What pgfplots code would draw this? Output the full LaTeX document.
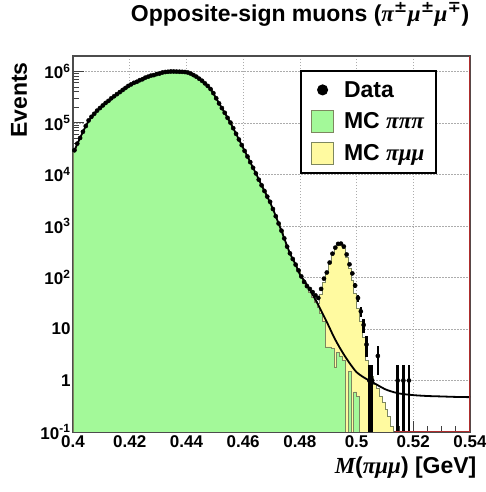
\documentclass[border=0pt]{standalone}
\usepackage{fontspec}
\setmainfont{Liberation Sans}
\newfontfamily\grkfont{Liberation Serif}
\newfontfamily\djvfont{DejaVu Serif}
\usepackage{pgfplots}
\pgfplotsset{compat=1.18}
\usepackage{pgfplotstable}

\definecolor{mcgreen}{RGB}{163,249,153}
\definecolor{mcyellow}{RGB}{255,250,160}
\definecolor{histedge}{RGB}{125,135,95}
\definecolor{framered}{RGB}{175,45,45}
\pgfplotsset{layers/gridbelow/.define layer set={axis background,axis grid,main,axis ticks,axis lines,axis tick labels,axis descriptions,axis foreground}{}}
\newcommand{\gk}[1]{{\grkfont\bfseries\itshape #1}}
\newcommand{\pmsup}[1]{\textsuperscript{\djvfont\bfseries #1}}

% bins of 0.001 GeV, left edges; gr = MC pipipi, tot = MC pipipi + MC pimumu, dat = data
\pgfplotstableread{
xl     gr       tot      dat      ep    em
0.400  29500    29500    29500    0     0
0.401  39800    39800    39800    0     0
0.402  51300    51300    51300    0     0
0.403  67600    67600    67600    0     0
0.404  87100    87100    87100    0     0
0.405  112000   112000   112000   0     0
0.406  132000   132000   132000   0     0
0.407  151000   151000   151000   0     0
0.408  174000   174000   174000   0     0
0.409  195000   195000   195000   0     0
0.410  219000   219000   219000   0     0
0.411  245000   245000   245000   0     0
0.412  269000   269000   269000   0     0
0.413  302000   302000   302000   0     0
0.414  331000   331000   331000   0     0
0.415  363000   363000   363000   0     0
0.416  398000   398000   398000   0     0
0.417  437000   437000   437000   0     0
0.418  479000   479000   479000   0     0
0.419  525000   525000   525000   0     0
0.420  562000   562000   562000   0     0
0.421  603000   603000   603000   0     0
0.422  631000   631000   631000   0     0
0.423  676000   676000   676000   0     0
0.424  708000   708000   708000   0     0
0.425  759000   759000   759000   0     0
0.426  794000   794000   794000   0     0
0.427  832000   832000   832000   0     0
0.428  851000   851000   851000   0     0
0.429  891000   891000   891000   0     0
0.430  912000   912000   912000   0     0
0.431  955000   955000   955000   0     0
0.432  977000   977000   977000   0     0
0.433  988000   988000   988000   0     0
0.434  1000000  1000000  1000000  0     0
0.435  1000000  1000000  1000000  0     0
0.436  995000   995000   995000   0     0
0.437  990000   990000   990000   0     0
0.438  985000   985000   985000   0     0
0.439  977000   977000   977000   0     0
0.440  955000   955000   955000   0     0
0.441  912000   912000   912000   0     0
0.442  851000   851000   851000   0     0
0.443  794000   794000   794000   0     0
0.444  724000   724000   724000   0     0
0.445  661000   661000   661000   0     0
0.446  589000   589000   589000   0     0
0.447  525000   525000   525000   0     0
0.448  457000   457000   457000   0     0
0.449  380000   380000   380000   0     0
0.450  302000   302000   302000   0     0
0.451  240000   240000   240000   0     0
0.452  195000   195000   195000   0     0
0.453  158000   158000   158000   0     0
0.454  126000   126000   126000   0     0
0.455  102000   102000   102000   0     0
0.456  79400    79400    79400    0     0
0.457  61700    61700    61700    0     0
0.458  47900    47900    47900    0     0
0.459  37200    37200    37200    0     0
0.460  28800    28800    28800    0     0
0.461  22400    22400    22400    0     0
0.462  17400    17400    17400    0     0
0.463  13500    13500    13500    0     0
0.464  10500    10500    10500    0     0
0.465  7940     7940     7940     0     0
0.466  6170     6170     6170     0     0
0.467  4790     4790     4790     0     0
0.468  3720     3720     3720     0     0
0.469  2950     2950     2950     0     0
0.470  2140     2140     2140     0     0
0.471  1550     1550     1550     0     0
0.472  1120     1120     1120     0     0
0.473  813      813      813      0     0
0.474  575      575      575      0     0
0.475  398      398      398      0     0
0.476  295      295      295      0     0
0.477  229      229      229      0     0
0.478  178      178      178      0     0
0.479  138      138      138      0     0
0.480  105      105      105      0     0
0.481  82       82       82       0     0
0.482  66       66       68       0     0
0.483  52       52       60       0     0
0.484  42       42       52       0     0
0.485  33       34       45       0     0
0.486  26       32       40       0     0
0.487  20       48       60       0     0
0.488  14       80       95       0     0
0.489  4.5      125      125      0     0
0.490  4.5      200      195      0     0
0.491  4.2      290      290      0     0
0.492  1.8      380      380      0     0
0.493  3.5      440      450      0     0
0.494  3.0      440      455      0     0
0.495  2.5      370      400      0     0
0.496  0.001    250      280      0     0
0.497  1.5      150      180      0     0
0.498  0.001    90       120      0     0
0.499  0.6      50       70       8     8
0.500  0.5      25       40       6     6
0.501  0.001    14       22       4.7   4.7
0.502  0.001    7        12       3.5   3.5
0.503  0.001    2.5      5        2.2   2.2
0.504  0.001    1.5      1        1     0.999
0.505  0.001    1.2      1        1     0.999
0.506  0.001    0.85     nan      0     0
0.507  0.001    0.7      3        1.7   1.7
0.508  0.001    0.5      nan      0     0
0.509  0.001    0.38     nan      0     0
0.510  0.001    0.27     nan      0     0
0.511  0.001    0.2      nan      0     0
0.512  0.001    0.13     nan      0     0
0.513  0.001    0.001    nan      0     0
0.514  0.001    0.001    1        1     0.999
0.515  0.001    0.001    nan      0     0
0.516  0.001    0.001    1        1     0.999
0.517  0.001    0.001    nan      0     0
0.518  0.001    0.001    1        1     0.999
0.519  0.001    0.001    nan      0     0
0.520  0.001    0.001    nan      0     0
}\hist

% fitted background curve
\pgfplotstableread{
x       y
0.4005  29500
0.4025  51300
0.4045  87100
0.4065  132000
0.4085  174000
0.4105  219000
0.4125  269000
0.4145  331000
0.4165  398000
0.4185  479000
0.4205  562000
0.4225  631000
0.4245  708000
0.4265  794000
0.4285  851000
0.4305  912000
0.4325  977000
0.4345  1000000
0.4365  995000
0.4385  985000
0.4405  955000
0.4425  851000
0.4445  724000
0.4465  589000
0.4485  457000
0.4505  302000
0.4525  195000
0.4545  126000
0.4565  79400
0.4585  47900
0.4605  28800
0.4625  17400
0.4645  10500
0.4665  6170
0.4685  3720
0.4705  2140
0.4725  1120
0.4745  575
0.4765  295
0.4785  178
0.480   115
0.482   80
0.484   52
0.486   33
0.488   20
0.490   12
0.492   7
0.494   4.4
0.496   2.9
0.498   2.0
0.500   1.45
0.502   1.2
0.504   1.03
0.506   0.9
0.508   0.78
0.510   0.68
0.512   0.62
0.515   0.56
0.520   0.52
0.525   0.50
0.530   0.49
0.535   0.48
0.540   0.475
}\fit

\begin{document}
\begin{tikzpicture}
\begin{axis}[
  set layers=gridbelow,
  at={(0,0)}, anchor=south west,
  scale only axis, width=397bp, height=376bp,
  xmin=0.4, xmax=0.54,
  ymode=log, ymin=0.1, ymax=2e6, log origin y=infty,
  xtick={0.4,0.42,0.44,0.46,0.48,0.5,0.52,0.54},
  xticklabels={0.4,0.42,0.44,0.46,0.48,0.5,0.52,0.54},
  minor x tick num=3,
  ytick={0.1,1,10,100,1000,1e4,1e5,1e6},
  yticklabels={10\textsuperscript{-1},1,10,10\textsuperscript{2},10\textsuperscript{3},10\textsuperscript{4},10\textsuperscript{5},10\textsuperscript{6}},
  minor ytick={0.2,0.3,0.4,0.5,0.6,0.7,0.8,0.9,2,3,4,5,6,7,8,9,20,30,40,50,60,70,80,90,
    200,300,400,500,600,700,800,900,2e3,3e3,4e3,5e3,6e3,7e3,8e3,9e3,
    2e4,3e4,4e4,5e4,6e4,7e4,8e4,9e4,2e5,3e5,4e5,5e5,6e5,7e5,8e5,9e5,2e6},
  tick align=inside, tick pos=left,
  major tick length=11bp, minor tick length=6bp,
  tick style={line width=1bp, black!75},
  axis line style={line width=1.1bp, black!70},
  grid=major,
  major grid style={dash pattern=on 1.5bp off 1.5bp, gray!65, line width=0.6bp},
  ticklabel style={font=\fontsize{17bp}{19bp}\selectfont\bfseries},
  yticklabel style={xshift=1bp},
  title={Opposite-sign muons (\gk{π}\pmsup{±}\gk{μ}\pmsup{±}\gk{μ}\pmsup{∓})},
  title style={at={(axis description cs:0.572,1.096)}, anchor=center,
    font=\fontsize{23bp}{26bp}\selectfont\bfseries},
  xlabel={\gk{M}(\gk{πμμ}) [GeV]},
  xlabel style={at={(axis description cs:1.025,-0.096)}, anchor=east,
    font=\fontsize{23bp}{26bp}\selectfont\bfseries},
  ylabel={Events},
  ylabel style={at={(axis description cs:-0.136,0.883)}, anchor=center,
    font=\fontsize{23bp}{26bp}\selectfont\bfseries},
  legend style={at={(axis description cs:0.572,0.963)}, anchor=north west,
    draw=black, line width=2bp, fill=white,
    font=\fontsize{23bp}{26bp}\selectfont\bfseries,
    inner xsep=10bp, inner ysep=8bp, row sep=9bp, column sep=8bp},
  legend cell align=left,
]
\addplot[const plot mark left, fill=mcyellow, draw=histedge, line width=0.6bp, forget plot]
  table[x=xl, y=tot]{\hist} \closedcycle;
\addplot[const plot mark left, fill=mcgreen, draw=histedge, line width=0.6bp, forget plot]
  table[x=xl, y=gr]{\hist} \closedcycle;
\addplot[black, line width=1.8bp, smooth, forget plot] table[x=x, y=y]{\fit};
\addplot[only marks, mark=*, mark size=2.1bp, black, forget plot,
  error bars/.cd, y dir=both, y explicit, error bar style={line width=2.4bp}, error mark=none]
  table[x expr=\thisrow{xl}+0.0005, y=dat, y error plus=ep, y error minus=em]{\hist};

\addlegendimage{legend image code/.code={\path[draw=none, fill=none] (0bp,-11bp) rectangle (22bp,11bp); \fill[black] (11bp,0bp) circle (4.5bp);}}
\addlegendentry{Data}
\addlegendimage{legend image code/.code={\draw[fill=mcgreen, draw=histedge, line width=1bp] (0bp,-11bp) rectangle (22bp,11bp);}}
\addlegendentry{MC \gk{πππ}}
\addlegendimage{legend image code/.code={\draw[fill=mcyellow, draw=histedge, line width=1bp] (0bp,-11bp) rectangle (22bp,11bp);}}
\addlegendentry{MC \gk{πμμ}}

\draw[framered, line width=1.1bp] (rel axis cs:1,0) -- (rel axis cs:1,1);
\draw[framered, line width=1.1bp] (axis cs:0.5135,0.1) -- (axis cs:0.54,0.1);
\end{axis}
\pgfresetboundingbox
\path[use as bounding box] (-73bp,-60bp) rectangle (413bp,432bp);
\end{tikzpicture}
\end{document}
